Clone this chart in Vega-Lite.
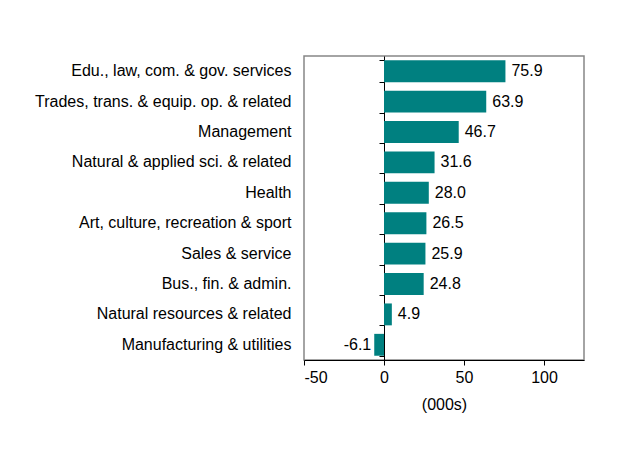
{
  "$schema": "https://vega.github.io/schema/vega-lite/v6.json",
  "width": 280,
  "height": 304,
  "padding": {"left": 34, "top": 56, "right": 38, "bottom": 5},
  "background": "white",
  "config": {
    "font": "Liberation Sans",
    "view": {"stroke": "#868686", "strokeWidth": 1.5},
    "locale": {"number": {"decimal": ".", "thousands": ",", "grouping": [3], "currency": ["$", ""], "minus": "-"}}
  },
  "data": {
    "values": [
      {"occupation": "Edu., law, com. & gov. services", "change": 75.9},
      {"occupation": "Trades, trans. & equip. op. & related", "change": 63.9},
      {"occupation": "Management", "change": 46.7},
      {"occupation": "Natural & applied sci. & related", "change": 31.6},
      {"occupation": "Health", "change": 28.0},
      {"occupation": "Art, culture, recreation & sport", "change": 26.5},
      {"occupation": "Sales & service", "change": 25.9},
      {"occupation": "Bus., fin. & admin.", "change": 24.8},
      {"occupation": "Natural resources & related", "change": 4.9},
      {"occupation": "Manufacturing & utilities", "change": -6.1}
    ]
  },
  "layer": [
    {
      "mark": {"type": "bar", "color": "#008080"},
      "encoding": {
        "y": {
          "field": "occupation",
          "type": "nominal",
          "sort": null,
          "scale": {"paddingInner": 0.28, "paddingOuter": 0.14},
          "axis": {
            "title": null,
            "domain": false,
            "ticks": false,
            "labelFontSize": 16,
            "labelColor": "black",
            "labelPadding": 13,
            "labelLimit": 320
          }
        },
        "x": {
          "field": "change",
          "type": "quantitative",
          "scale": {"domain": [-50, 125], "nice": false},
          "axis": {
            "values": [-50, 0, 50, 100],
            "grid": false,
            "title": "(000s)",
            "titleFontSize": 16,
            "titleFontWeight": "normal",
            "titleColor": "black",
            "titlePadding": 11,
            "labelFontSize": 16,
            "labelColor": "black",
            "labelPadding": 4,
            "tickColor": "black",
            "tickSize": 5,
            "domainColor": "black"
          }
        }
      }
    },
    {
      "transform": [{"filter": "datum.change >= 0"}],
      "mark": {"type": "text", "align": "left", "dx": 6, "fontSize": 16, "color": "black"},
      "encoding": {
        "y": {
          "field": "occupation",
          "type": "nominal",
          "sort": null,
          "axis": {
            "orient": "left",
            "offset": -80,
            "title": null,
            "labels": false,
            "ticks": true,
            "tickBand": "extent",
            "tickSize": 5,
            "tickColor": "black",
            "domain": true,
            "domainColor": "black"
          }
        },
        "x": {"field": "change", "type": "quantitative"},
        "text": {"field": "change", "type": "quantitative", "format": ".1f"}
      }
    },
    {
      "transform": [{"filter": "datum.change < 0"}],
      "mark": {"type": "text", "align": "right", "dx": -3, "fontSize": 16, "color": "black"},
      "encoding": {
        "y": {"field": "occupation", "type": "nominal", "sort": null, "axis": null},
        "x": {"field": "change", "type": "quantitative"},
        "text": {"field": "change", "type": "quantitative", "format": ".1f"}
      }
    }
  ],
  "resolve": {"axis": {"y": "independent"}}
}
